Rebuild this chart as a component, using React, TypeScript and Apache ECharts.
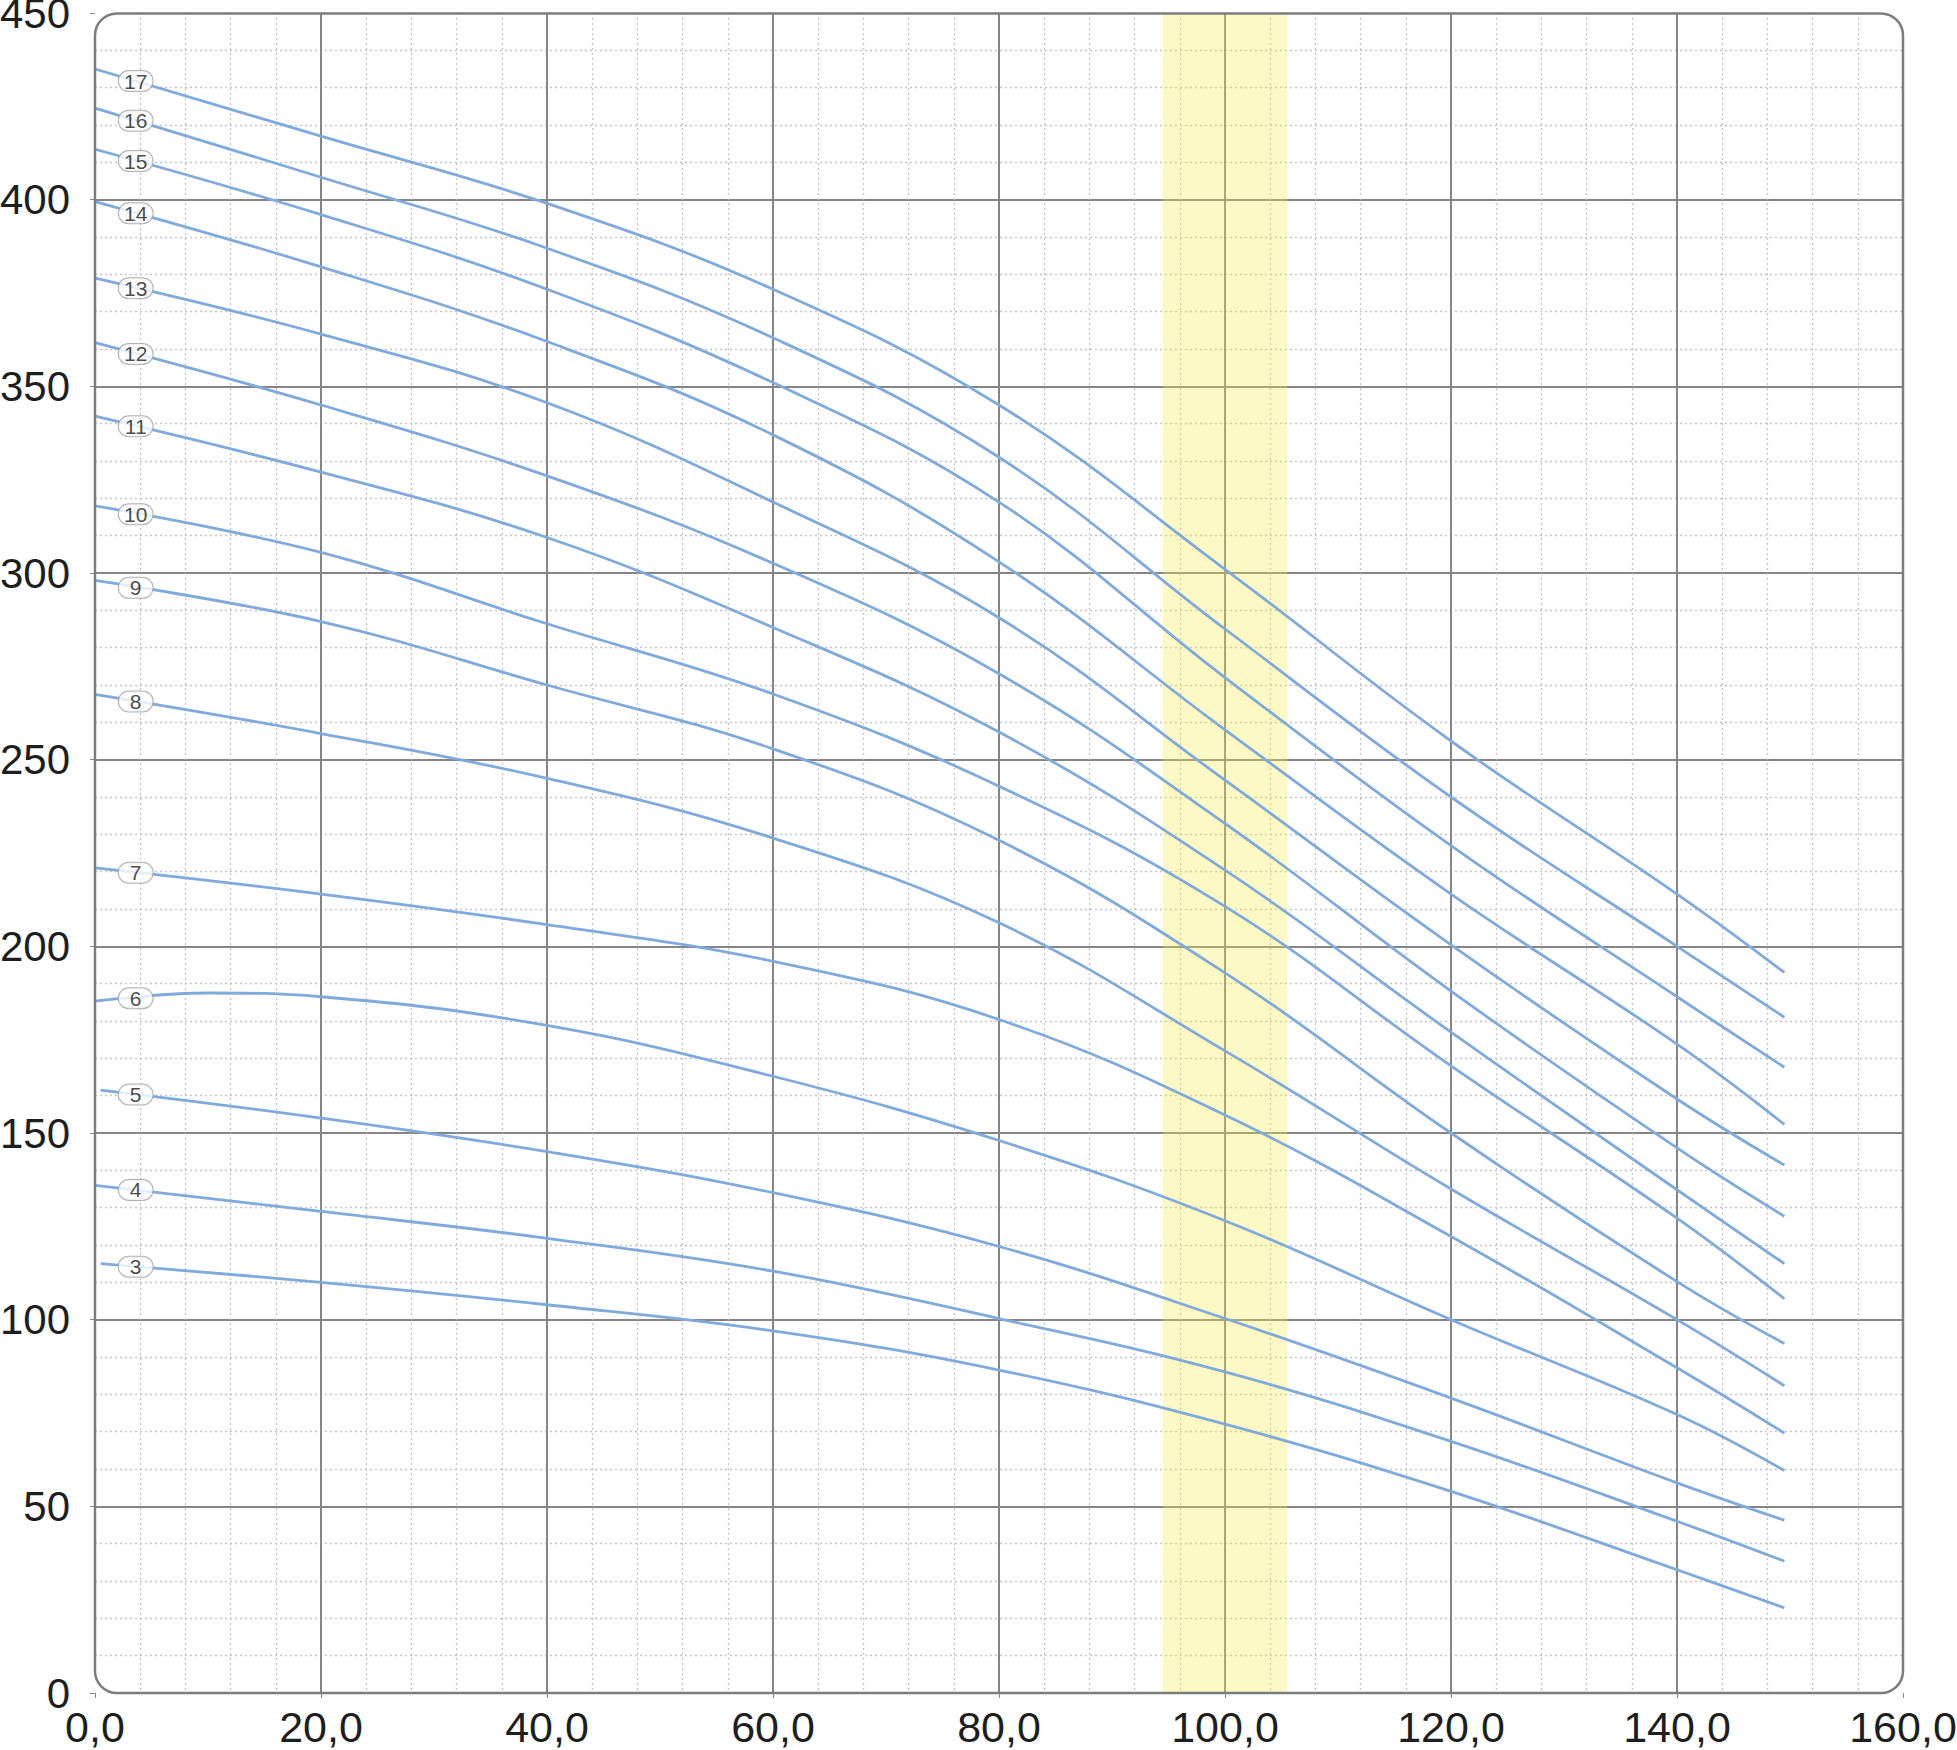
import React, { useEffect, useRef } from "react";
import * as echarts from "echarts";

// Flow rate sample points (x)
const FLOW = [0, 20, 40, 60, 80, 100, 120, 140, 149.5];
// curve 6 has a visible hump near the start, so it carries an extra reading at 10
const FLOW_6 = [0, 10, 20, 40, 60, 80, 100, 120, 140, 149.5];
const STAGES = [17, 16, 15, 14, 13, 12, 11, 10, 9, 8, 7, 6, 5, 4, 3];

const HEAD_17 = [435, 417, 399, 376, 345, 301, 255, 214, 193];
const HEAD_16 = [424.5, 406, 387, 363, 331, 285, 240, 200, 181];
const HEAD_15 = [413.5, 396, 376, 351, 319, 272, 227, 186.5, 167.6];
const HEAD_14 = [399.5, 382, 362, 337, 303, 258, 214, 173.8, 152.3];
const HEAD_13 = [379, 364, 345.6, 319, 288, 244.5, 200.4, 159.1, 141.4];
const HEAD_12 = [361.7, 345, 326, 302.6, 273, 232.9, 188, 146, 127.7];
const HEAD_11 = [342, 327, 309.5, 285.4, 257.4, 220.4, 177, 134.8, 115];
const HEAD_10 = [318, 305.5, 286.4, 267.6, 242.9, 210.7, 168, 127.2, 105.6];
const HEAD_9 = [298, 287, 270, 252.9, 228.4, 192.9, 150, 110.2, 93.6];
const HEAD_8 = [267.5, 257, 245, 229, 206.3, 172, 135, 100, 82.3];
const HEAD_7 = [221, 214, 205.8, 196, 180.4, 154.8, 122.3, 87.1, 69.6];
const HEAD_6 = [185.3, 187.5, 186.5, 178.8, 165.2, 148, 126.5, 100, 74.6, 59.6];
const HEAD_5 = [161.5, 154, 145, 134, 119.6, 100.3, 79, 56.3, 46.3];
const HEAD_4 = [136, 129, 121.8, 113, 100.3, 86, 67.4, 46, 35.3];
const HEAD_3 = [115, 110, 104, 97, 86.5, 72, 54, 33, 22.8];

const HEADS = [
  HEAD_17, HEAD_16, HEAD_15, HEAD_14, HEAD_13, HEAD_12, HEAD_11, HEAD_10,
  HEAD_9, HEAD_8, HEAD_7, HEAD_6, HEAD_5, HEAD_4, HEAD_3,
];
// first flow value of each curve (some curves start slightly right of 0)
const START_FLOW = [0, 0, 0, 0, 0, 0, 0, 0, 0, 0, 0, 0, 0.5, 0, 0.5];

const LABEL_FLOW = 3.6;
const BAND = [94.5, 105.5];

const LINE_COLOR = "#80aadc";
const FONT = "'Liberation Sans', Arial, Helvetica, sans-serif";

function interp(xs: number[], ys: number[], x: number) {
  for (let i = 0; i < xs.length - 1; i++) {
    if (x >= xs[i] && x <= xs[i + 1]) {
      const t = (x - xs[i]) / (xs[i + 1] - xs[i]);
      return ys[i] + t * (ys[i + 1] - ys[i]);
    }
  }
  return ys[0];
}

function flowsFor(idx: number) {
  const base = STAGES[idx] === 6 ? FLOW_6 : FLOW;
  return base.map((q, i) => (i === 0 ? START_FLOW[idx] : q));
}

export default function App() {
  const ref = useRef<HTMLDivElement>(null);
  useEffect(() => {
    const chart = echarts.init(ref.current!, null, { renderer: "svg" });

    const lineSeries = STAGES.map((stage, idx) => {
      const xs = flowsFor(idx);
      return {
        name: "Stage " + stage,
        type: "line",
        data: xs.map((q, i) => [q, HEADS[idx][i]]),
        smooth: 0.4,
        symbol: "none",
        z: 3,
        lineStyle: { color: LINE_COLOR, width: 2.8 },
        silent: true,
      };
    });

    const labelData = STAGES.map((stage, idx) => [
      LABEL_FLOW,
      interp(flowsFor(idx), HEADS[idx], LABEL_FLOW),
      String(stage),
    ]);

    const option: any = {
      animation: false,
      backgroundColor: "#ffffff",
      grid: {
        left: 95,
        right: 54,
        top: 13,
        bottom: 57,
        containLabel: false,
        outerBoundsMode: "none",
      },
      xAxis: {
        type: "value",
        min: 0,
        max: 160,
        interval: 20,
        offset: 4,
        axisLine: { show: false },
        axisTick: { show: true, length: 5, lineStyle: { color: "#888", width: 1 } },
        axisLabel: {
          margin: 8,
          fontSize: 43,
          color: "#1e1e1e",
          fontFamily: FONT,
          formatter: (v: number) => v.toFixed(1).replace(".", ","),
        },
        splitLine: {
          show: true,
          showMinLine: false,
          showMaxLine: false,
          lineStyle: { color: "#858585", width: 2 },
        },
        minorTick: { show: false, splitNumber: 5 },
        minorSplitLine: {
          show: true,
          lineStyle: { color: "#c4c4c4", width: 1.3, type: [2, 3] },
        },
      },
      yAxis: {
        type: "value",
        min: 0,
        max: 450,
        interval: 50,
        offset: 10,
        axisLine: { show: false },
        axisTick: { show: true, length: 5, lineStyle: { color: "#888", width: 1 } },
        axisLabel: {
          margin: 15,
          fontSize: 42,
          lineHeight: 26,
          color: "#1e1e1e",
          fontFamily: FONT,
        },
        splitLine: {
          show: true,
          showMinLine: false,
          showMaxLine: false,
          lineStyle: { color: "#858585", width: 2 },
        },
        minorTick: { show: false, splitNumber: 5 },
        minorSplitLine: {
          show: true,
          lineStyle: { color: "#c4c4c4", width: 1.3, type: [2, 3] },
        },
      },
      graphic: [
        {
          type: "rect",
          z: 50,
          silent: true,
          shape: { x: 95, y: 13.5, width: 1808, height: 1679.5, r: 22 },
          style: { fill: "none", stroke: "#7d7d7d", lineWidth: 2.5 },
        },
      ],
      series: [
        {
          name: "band",
          type: "line",
          data: [],
          z: 1,
          silent: true,
          markArea: {
            silent: true,
            itemStyle: { color: "rgba(250, 236, 70, 0.32)" },
            data: [[{ xAxis: BAND[0] }, { xAxis: BAND[1] }]],
          },
        },
        ...lineSeries,
        {
          name: "labels",
          type: "scatter",
          z: 10,
          symbolSize: 0,
          silent: true,
          data: labelData,
          label: {
            show: true,
            position: "inside",
            formatter: (p: any) => p.data[2],
            fontSize: 21,
            fontFamily: FONT,
            color: "#1a1a1a",
            backgroundColor: "#ffffff",
            borderColor: "#a0a0a0",
            borderWidth: 1,
            borderRadius: 10,
            width: 24,
            height: 19,
            lineHeight: 19,
            align: "center",
            verticalAlign: "middle",
            padding: [1, 5, 0, 5],
          },
        },
      ],
    };

    chart.setOption(option);
    return () => chart.dispose();
  }, []);

  return (
    <div
      ref={ref}
      style={{
        position: "absolute",
        left: 0,
        top: 0,
        width: 1957,
        height: 1750,
        background: "#fff",
      }}
    />
  );
}
